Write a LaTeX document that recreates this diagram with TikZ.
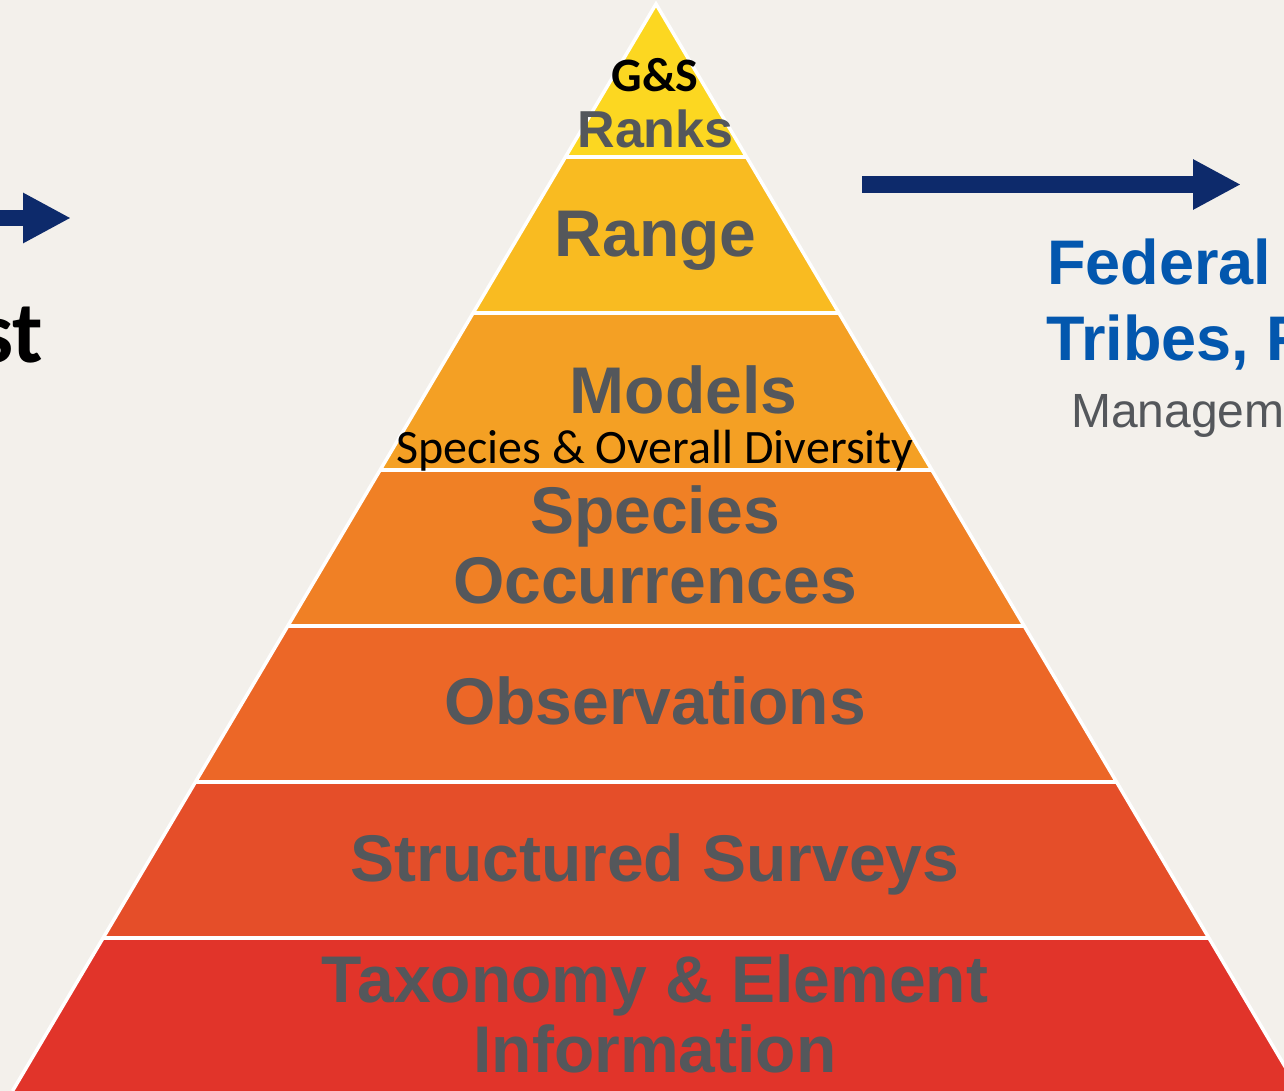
\documentclass[tikz,border=0pt]{standalone}
\usepackage{fontspec}
\setmainfont{Liberation Sans}
\newfontfamily\calfont{Carlito}
\usetikzlibrary{arrows.meta}
\definecolor{bg}{HTML}{F3F0EB}
\definecolor{tgray}{HTML}{54575B}
\definecolor{navy}{HTML}{0D2A6B}
\definecolor{fedblue}{HTML}{0357AE}
\definecolor{cA}{HTML}{FCD721}
\definecolor{cB}{HTML}{F9BB21}
\definecolor{cC}{HTML}{F4A024}
\definecolor{cD}{HTML}{F08025}
\definecolor{cE}{HTML}{EC6727}
\definecolor{cF}{HTML}{E54E29}
\definecolor{cG}{HTML}{E1342A}
\begin{document}
\begin{tikzpicture}[x=1pt,y=-1pt,
  lbl/.style={inner sep=0pt, anchor=base, text=tgray, font=\fontsize{66}{70}\selectfont\bfseries},
  sepline/.style={white, line width=4pt},
  barrow/.style={draw=navy, line width=17pt, -{Triangle[length=48pt,width=47pt]}},
  side/.style={inner sep=0pt, anchor=base west}]
\useasboundingbox (0,0) rectangle (1284,1091);
\clip (0,0) rectangle (1284,1091);
\fill[bg] (0,0) rectangle (1284,1091);
% layers
\fill[cA] (656,4) -- (746.6,157) -- (565.4,157) -- cycle;
\fill[cB] (565.4,157) -- (746.6,157) -- (838.9,313) -- (473.1,313) -- cycle;
\fill[cC] (473.1,313) -- (838.9,313) -- (931.9,470) -- (380.1,470) -- cycle;
\fill[cD] (380.1,470) -- (931.9,470) -- (1024.2,626) -- (287.8,626) -- cycle;
\fill[cE] (287.8,626) -- (1024.2,626) -- (1116.6,782) -- (195.4,782) -- cycle;
\fill[cF] (195.4,782) -- (1116.6,782) -- (1208.9,938) -- (103.1,938) -- cycle;
\fill[cG] (103.1,938) -- (1208.9,938) -- (1299.5,1091) -- (12.5,1091) -- cycle;
% separators
\draw[sepline] (565.4,157) -- (746.6,157);
\draw[sepline] (473.1,313) -- (838.9,313);
\draw[sepline] (380.1,470) -- (931.9,470);
\draw[sepline] (287.8,626) -- (1024.2,626);
\draw[sepline] (195.4,782) -- (1116.6,782);
\draw[sepline] (103.1,938) -- (1208.9,938);
\draw[white, line width=3.5pt, line join=miter] (12.5,1091) -- (656,4) -- (1299.5,1091);
% labels
\node[inner sep=0pt, anchor=base, font=\calfont\fontsize{48}{50}\selectfont\bfseries] (gs) at (655,92) {G\&S};
\node[lbl, font=\fontsize{52}{54}\selectfont\bfseries] (ranks) at (655.5,148) {Ranks};
\node[lbl] (range) at (655.5,256) {Range};
\node[lbl] (models) at (683.5,413) {Models};
\node[inner sep=0pt, anchor=base, font=\calfont\fontsize{48}{50}\selectfont] (div) at (655,463) {Species \& Overall Diversity};
\node[lbl] (spec) at (655,533) {Species};
\node[lbl] (occ) at (655,603) {Occurrences};
\node[lbl] (obs) at (655,724) {Observations};
\node[lbl] (surv) at (655,881) {Structured Surveys};
\node[lbl] (tax) at (655,1002) {Taxonomy \& Element};
\node[lbl] (info) at (655,1072) {Information};
% side texts
\node[inner sep=0pt, anchor=base east, font=\calfont\fontsize{88}{90}\selectfont\bfseries] (st) at (43,362) {st};
\node[side, text=fedblue, font=\fontsize{63}{66}\selectfont\bfseries] (fed) at (1047,284) {Federal};
\node[side, text=fedblue, font=\fontsize{63}{66}\selectfont\bfseries] (tri) at (1046,360) {Tribes, F};
\node[side, text=tgray, font=\fontsize{48}{50}\selectfont] (man) at (1071,427) {Managem};
% arrows
\coordinate (la1) at (-20,218);
\coordinate (la2) at (71,218);
\coordinate (ra1) at (862,184.5);
\coordinate (ra2) at (1241,184.5);
\draw[barrow, line width=16pt] (la1) -- (la2);
\draw[barrow] (ra1) -- (ra2);
\end{tikzpicture}
\end{document}
